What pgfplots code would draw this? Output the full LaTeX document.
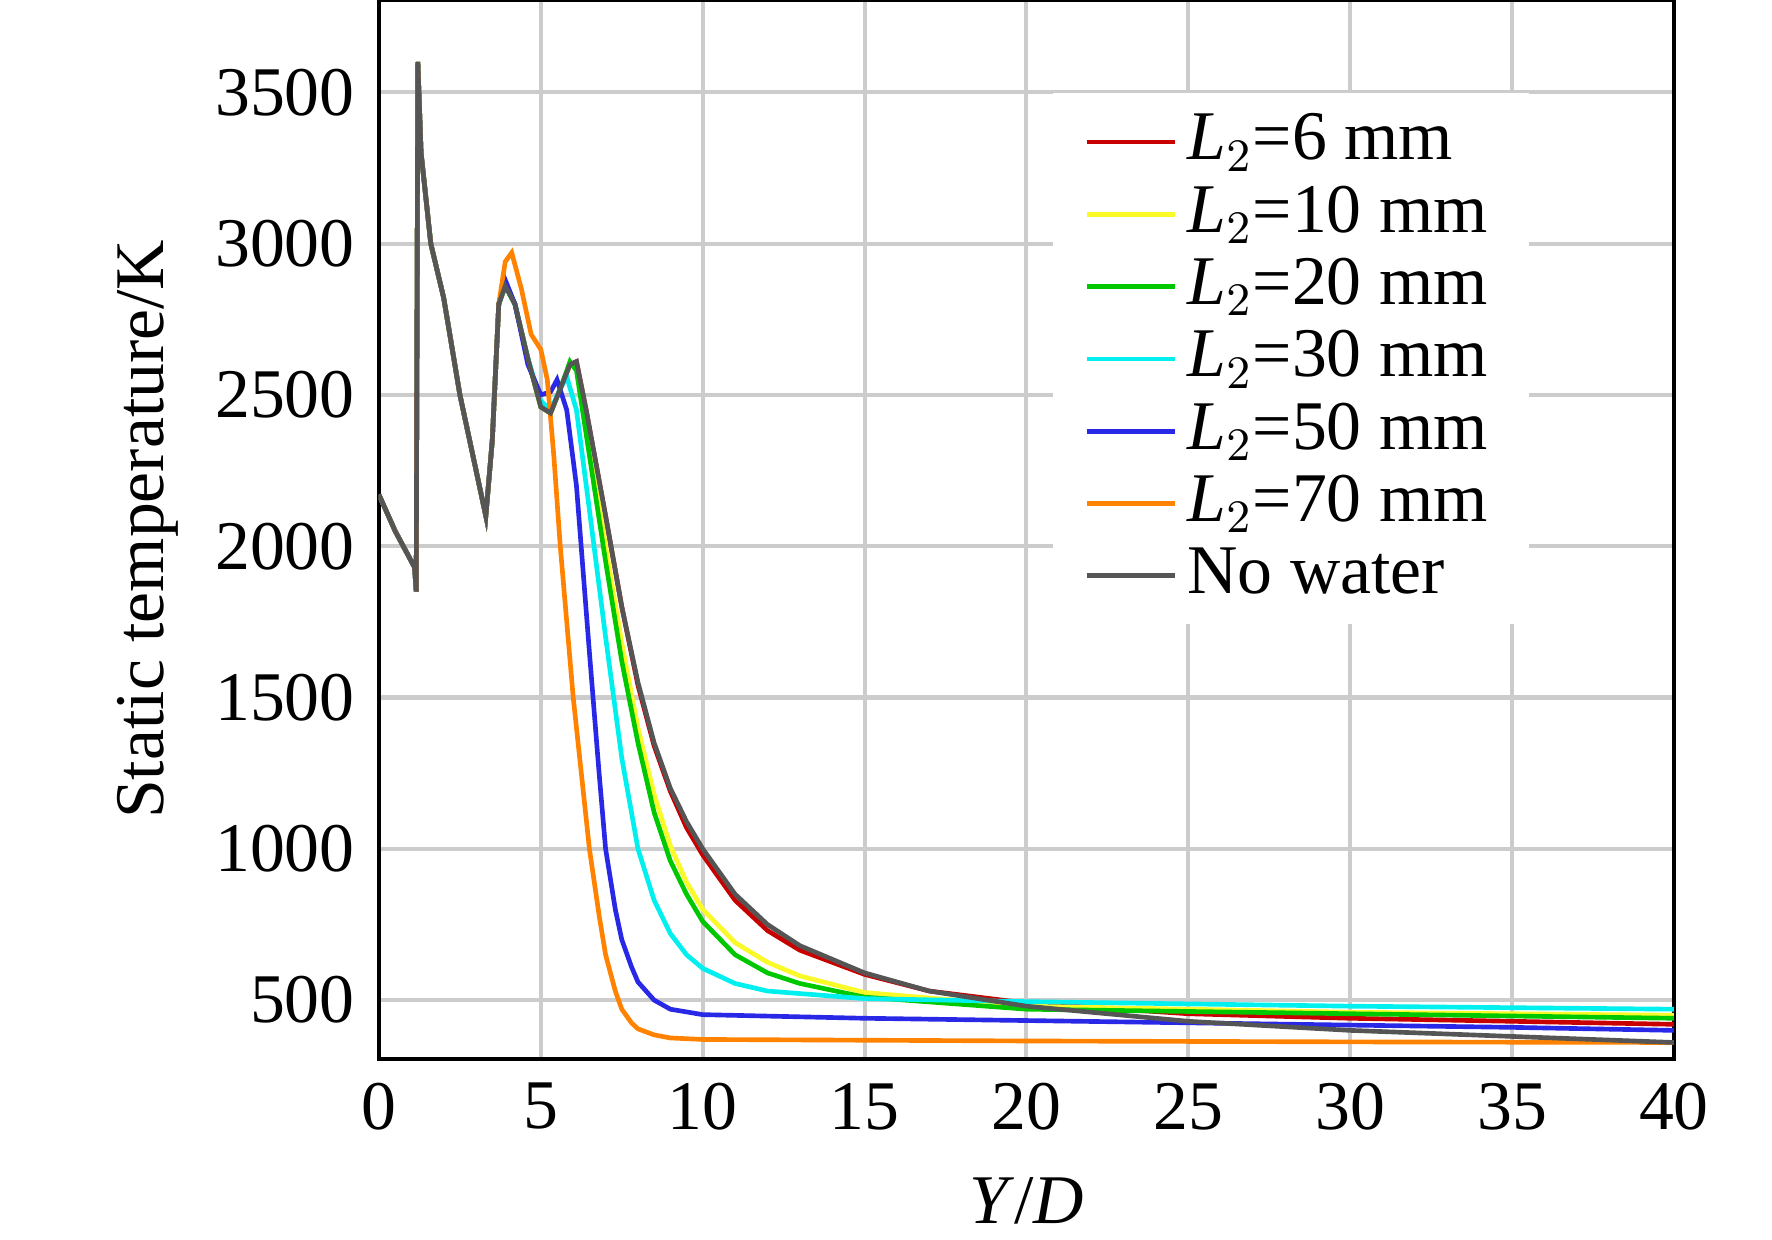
\documentclass[border=0pt]{standalone}
\usepackage{pgfplots}
\pgfplotsset{compat=1.18}
\usepackage{fontspec}
\setmainfont{Liberation Serif}
\definecolor{cR}{RGB}{200,0,0}
\definecolor{cY}{RGB}{250,250,40}
\definecolor{cG}{RGB}{0,200,0}
\definecolor{cC}{RGB}{0,240,240}
\definecolor{cB}{RGB}{40,40,230}
\definecolor{cO}{RGB}{255,130,0}
\definecolor{cK}{RGB}{85,85,85}
\begin{document}
\fontsize{13.5}{16}\selectfont
\def\pre{(0,2170)(0.5,2050)(1.1,1930)(1.15,1850)(1.2,3600)(1.3,3300)(1.6,3000)(2,2820)(2.5,2500)(3,2250)(3.3,2100)(3.5,2350)(3.7,2800)}
\begin{tikzpicture}
\begin{axis}[scale only axis,width=250.7pt,height=205pt,
xmin=0,xmax=40,ymin=306,ymax=3805,
xtick={0,5,...,40},ytick={500,1000,...,3500},
grid=major,grid style={gray!40,line width=0.8pt},
axis line style={line width=0.9pt},
major tick length=0pt,
xlabel={\textit{Y}/\textit{D}},ylabel={Static temperature/K},
ylabel style={yshift=-2pt},
/pgf/number format/assume math mode=true,
/pgf/number format/set thousands separator={},
legend style={at={(0.52,0.913)},anchor=north west,draw=none,fill=white,row sep=-1pt,inner xsep=6pt,font=\fontsize{13.5}{16}\selectfont},
legend cell align=left,
legend image post style={line width=0.9pt},
every axis plot/.append style={line width=0.9pt},
]
\addplot[cR] coordinates {\pre(3.9,2860)(4.2,2800)(4.6,2620)(5,2460)(5.3,2440)(5.6,2520)(5.9,2600)(6.1,2610)(6.4,2450)(7,2100)(7.5,1800)(8,1540)(8.5,1340)(9,1190)(9.5,1070)(10,980)(11,830)(12,730)(13,665)(15,585)(17,530)(20,490)(25,455)(30,440)(35,430)(40,420)};
\addlegendentry{\textit{L}$_2$=6 mm}
\addplot[cY] coordinates {\pre(3.9,2860)(4.2,2800)(4.6,2620)(5,2460)(5.3,2440)(5.6,2520)(5.9,2600)(6.1,2600)(6.5,2350)(7,2000)(7.5,1680)(8,1400)(8.5,1180)(9,1010)(9.5,890)(10,800)(11,690)(12,625)(13,580)(15,525)(20,480)(30,460)(40,450)};
\addlegendentry{\textit{L}$_2$=10 mm}
\addplot[cG] coordinates {\pre(3.9,2860)(4.2,2800)(4.6,2620)(5,2460)(5.3,2440)(5.6,2520)(5.9,2610)(6.1,2580)(6.5,2300)(7,1950)(7.5,1620)(8,1350)(8.5,1120)(9,960)(9.5,850)(10,760)(11,650)(12,590)(13,555)(15,510)(20,470)(30,455)(40,440)};
\addlegendentry{\textit{L}$_2$=20 mm}
\addplot[cC] coordinates {\pre(3.9,2860)(4.2,2800)(4.6,2620)(5,2480)(5.3,2450)(5.6,2520)(5.8,2560)(6.1,2450)(6.5,2120)(7,1700)(7.5,1300)(8,1000)(8.5,830)(9,720)(9.5,650)(10,605)(11,555)(12,530)(15,505)(20,495)(30,480)(40,470)};
\addlegendentry{\textit{L}$_2$=30 mm}
\addplot[cB] coordinates {\pre(3.9,2880)(4.2,2800)(4.6,2600)(5,2500)(5.3,2510)(5.5,2550)(5.8,2450)(6.1,2200)(6.5,1650)(6.8,1250)(7,1000)(7.3,800)(7.5,700)(7.8,610)(8,560)(8.5,500)(9,470)(10,452)(15,440)(25,425)(35,410)(40,400)};
\addlegendentry{\textit{L}$_2$=50 mm}
\addplot[cO] coordinates {\pre(3.9,2940)(4.1,2970)(4.4,2850)(4.7,2700)(5,2650)(5.2,2550)(5.4,2300)(5.6,2000)(6,1500)(6.5,1000)(6.8,780)(7,650)(7.3,530)(7.5,470)(7.8,425)(8,405)(8.5,385)(9,375)(10,370)(20,365)(30,362)(40,360)};
\addlegendentry{\textit{L}$_2$=70 mm}
\addplot[cK] coordinates {\pre(3.9,2860)(4.2,2800)(4.6,2620)(5,2460)(5.3,2440)(5.6,2520)(5.9,2600)(6.1,2610)(6.4,2450)(7,2100)(7.5,1800)(8,1550)(8.5,1350)(9,1200)(9.5,1090)(10,1000)(11,850)(12,750)(13,680)(15,590)(17,530)(20,480)(25,430)(30,400)(35,380)(40,360)};
\addlegendentry{No water}
\end{axis}
\pgfresetboundingbox
\path ([xshift=-70pt,yshift=-35pt]current axis.south west) rectangle ([xshift=19pt]current axis.north east);
\end{tikzpicture}
\end{document}
